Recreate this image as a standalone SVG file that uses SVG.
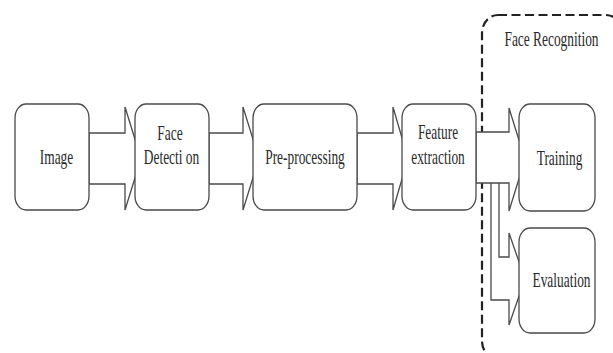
<svg xmlns="http://www.w3.org/2000/svg" width="613" height="353" viewBox="0 0 613 353">
<style>
.box{fill:#fff;stroke:#4a4a4a;stroke-width:1.3}
.arr{fill:#fff;stroke:#4a4a4a;stroke-width:1.3;stroke-linejoin:miter}
.lbl{font-family:"Liberation Serif","Times New Roman",serif;font-size:13.4px;fill:#2a2a2a;text-anchor:middle}
.grp{fill:none;stroke:#222;stroke-width:2.2;stroke-dasharray:9 4.5}
</style>
<rect width="613" height="353" fill="#fff"/>
<g id="face-recognition">
<rect class="grp" x="482" y="15" width="140" height="344" rx="16" ry="18"/>
<text class="lbl" transform="translate(551.5 46) scale(1 1.5)">Face Recognition</text>
</g>
<g id="connectors">
<path class="arr" d="M89 133 L125 133 L125 107 L141 158.5 L125 210 L125 184 L89 184 Z"/>
<path class="arr" d="M209 133 L243 133 L243 107 L259 158.5 L243 210 L243 184 L209 184 Z"/>
<path class="arr" d="M357 133 L393 133 L393 107 L408 158.5 L393 210 L393 184 L357 184 Z"/>
<path class="arr" d="M491 183 L491 300 L509 300 L509 325 L525 279 L509 233 L509 257 L499 257 L499 183"/>
<path class="arr" d="M476 132 L509 132 L509 108 L525 159.5 L509 211 L509 183 L476 183 Z"/>
</g>
<g id="image">
<rect class="box" x="15" y="104" width="74" height="106" rx="11" ry="14"/>
<text class="lbl" transform="translate(56.5 164) scale(1 1.5)">Image</text>
</g>
<g id="face-detection">
<rect class="box" x="135" y="104" width="74" height="106" rx="11" ry="14"/>
<text class="lbl" transform="translate(170 140) scale(1 1.5)">Face</text>
<text class="lbl" transform="translate(171.5 164) scale(1 1.5)">Detecti on</text>
</g>
<g id="pre-processing">
<rect class="box" x="253" y="104" width="104" height="106" rx="11" ry="14"/>
<text class="lbl" transform="translate(305 164) scale(1 1.5)">Pre-processing</text>
</g>
<g id="feature-extraction">
<rect class="box" x="402" y="104" width="74" height="106" rx="11" ry="14"/>
<text class="lbl" transform="translate(438 139) scale(1 1.5)">Feature</text>
<text class="lbl" transform="translate(438 164) scale(1 1.5)">extraction</text>
</g>
<g id="training">
<rect class="box" x="519" y="104" width="76" height="107" rx="11" ry="14"/>
<text class="lbl" transform="translate(559.5 165) scale(1 1.5)">Training</text>
</g>
<g id="evaluation">
<rect class="box" x="519" y="228" width="76" height="105" rx="11" ry="14"/>
<text class="lbl" transform="translate(561.5 287) scale(1 1.5)">Evaluation</text>
</g>
</svg>
